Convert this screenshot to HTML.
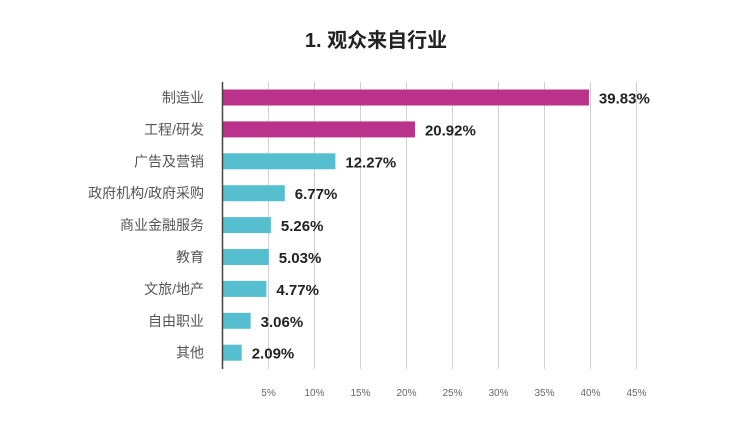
<!DOCTYPE html>
<html><head><meta charset="utf-8"><style>
body{margin:0;background:#fff;}
svg{display:block;font-family:"Liberation Sans","Noto Sans CJK SC",sans-serif;}
</style></head><body>
<svg id="chart" width="749" height="433" viewBox="0 0 749 433">
<text x="376" y="47" text-anchor="middle" font-size="20" font-weight="bold" fill="#222">1. 观众来自行业</text>
<g id="grid"></g><g id="bars"></g><g id="labels"></g>
</svg>
<script>
const categories=["制造业","工程/研发","广告及营销","政府机构/政府采购","商业金融服务","教育","文旅/地产","自由职业","其他"];
const values=[39.83,20.92,12.27,6.77,5.26,5.03,4.77,3.06,2.09];
const tickValues=[5,10,15,20,25,30,35,40,45];
const tickLabels=["5%","10%","15%","20%","25%","30%","35%","40%","45%"];
const NS="http://www.w3.org/2000/svg";
const x0=222.5,pxPer=9.2,rowY0=97.5,rowStep=31.9,barH=16;
const xScale=v=>x0+v*pxPer;
const yScale=i=>rowY0+i*rowStep;
function mk(tag,attrs,parent){const e=document.createElementNS(NS,tag);for(const k in attrs)e.setAttribute(k,attrs[k]);parent.appendChild(e);return e;}
const grid=document.getElementById('grid'),bars=document.getElementById('bars'),labels=document.getElementById('labels');
tickValues.forEach((t,i)=>{
  const l=mk('line',{x1:xScale(t),x2:xScale(t),y1:82,y2:369,stroke:'#d0d0d0','stroke-width':1},grid);
  
  
  const tx=mk('text',{x:xScale(t),y:396,'text-anchor':'middle','font-size':10,fill:'#666'},grid);
  tx.textContent=tickLabels[i];
  
  
});
categories.forEach((c,i)=>{
  const y=yScale(i);
  const r=mk('rect',{x:x0,y:y-barH/2,width:xScale(values[i])-x0,height:barH,fill:i<2?'#bb328a':'#55bfd0'},bars);
  
  
  const cl=mk('text',{x:204,y:y+5,'text-anchor':'end','font-size':14,fill:'#555'},labels);
  cl.textContent=c;
  
  
  const vl=mk('text',{x:xScale(values[i])+10,y:y+6,'font-size':15,'font-weight':'bold',fill:'#222'},labels);
  vl.textContent=values[i].toFixed(2)+'%';
  
  
});
const ax=mk('line',{x1:x0,x2:x0,y1:82,y2:369,stroke:'#444','stroke-width':1.5},labels);


</script>
</body></html>
